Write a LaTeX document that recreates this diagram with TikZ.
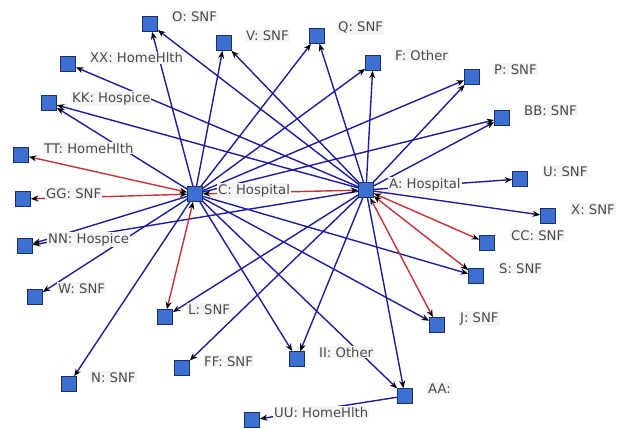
\documentclass[tikz,border=0pt]{standalone}
\usepackage{fontspec}
\setmainfont{DejaVu Sans}
\usepackage{tikz}
\usetikzlibrary{arrows.meta, positioning}
\definecolor{facfill}{HTML}{3B6FD2}
\definecolor{facedge}{HTML}{1C2F6B}
\definecolor{refblue}{HTML}{1E1E9C}
\definecolor{refred}{HTML}{C53434}
\definecolor{lblback}{HTML}{F5F5F5}
\definecolor{lbltext}{HTML}{4A4A4A}

\begin{document}
\begin{tikzpicture}[x=1pt, y=-1pt,
    fac/.style={draw=facedge, fill=facfill, line width=0.7pt, minimum size=15pt, inner sep=0pt},
    lbl/.style={fill=lblback, text=lbltext, inner sep=1pt, anchor=base west, font=\fontsize{13.2}{15}\selectfont},
    refer/.style={draw=refblue, line width=1.4pt, -{Stealth[length=7.5pt, width=6pt, color=black]}},
    mutual/.style={draw=refred, line width=1.4pt, {Stealth[length=7.5pt, width=6pt, color=black]}-{Stealth[length=7.5pt, width=6pt, color=black]}}]
                        \fill[white] (0, 0) rectangle (617, 428);
                        \useasboundingbox (0, 0) rectangle (617, 428);
                        \node[fac] (O) at (150, 24) {};
                        \node[fac] (V) at (224, 43) {};
                        \node[fac] (Q) at (317, 36) {};
                        \node[fac] (F) at (373, 63) {};
                        \node[fac] (P) at (472, 77) {};
                        \node[fac] (BB) at (502, 118) {};
                        \node[fac] (XX) at (68, 64) {};
                        \node[fac] (KK) at (49, 103) {};
                        \node[fac] (TT) at (21, 155) {};
                        \node[fac] (GG) at (23, 199) {};
                        \node[fac] (C) at (195, 194) {};
                        \node[fac] (A) at (366, 190) {};
                        \node[fac] (U) at (520, 179) {};
                        \node[fac] (X) at (548, 216) {};
                        \node[fac] (CC) at (487, 243) {};
                        \node[fac] (NN) at (25, 246) {};
                        \node[fac] (S) at (476, 276) {};
                        \node[fac] (W) at (35, 297) {};
                        \node[fac] (L) at (165, 317) {};
                        \node[fac] (J) at (437, 325) {};
                        \node[fac] (FF) at (182, 368) {};
                        \node[fac] (II) at (297, 359) {};
                        \node[fac] (N) at (69, 384) {};
                        \node[fac] (AA) at (405, 396) {};
                        \node[fac] (UU) at (252, 420) {};
                        \draw
                        (C) edge[refer] (O)
                        (C) edge[refer] (V)
                        (C) edge[refer] (Q)
                        (C) edge[refer] (F)
                        (C) edge[refer] (P)
                        (C) edge[refer] (BB)
                        (C) edge[refer] (KK)
                        (C) edge[refer] (NN)
                        (C) edge[refer] (W)
                        (C) edge[refer] (N)
                        (C) edge[refer] (II)
                        (C) edge[refer] (AA)
                        (C) edge[refer] (J)
                        (C) edge[refer] (S)
                        (A) edge[refer] (O)
                        (A) edge[refer] (V)
                        (A) edge[refer] (XX)
                        (A) edge[refer] (KK)
                        (A) edge[refer] (NN)
                        (A) edge[refer] (L)
                        (A) edge[refer] (FF)
                        (A) edge[refer] (II)
                        (A) edge[refer] (AA)
                        (A) edge[refer] (X)
                        (A) edge[refer] (U)
                        (A) edge[refer] (BB)
                        (A) edge[refer] (P)
                        (A) edge[refer] (F)
                        (A) edge[refer] (Q)
                        (AA) edge[refer] (UU)
                        (C) edge[mutual] (A)
                        (C) edge[mutual] (TT)
                        (C) edge[mutual] (GG)
                        (C) edge[mutual] (L)
                        (A) edge[mutual] (CC)
                        (A) edge[mutual] (S)
                        (A) edge[mutual] (J);
                        \node[lbl] (Ol) at ([xshift=21pt, yshift=2pt]O.center) {O: SNF};
                        \node[lbl] (Vl) at ([xshift=21pt, yshift=2pt]V.center) {V: SNF};
                        \node[lbl] (Ql) at ([xshift=20pt, yshift=4pt]Q.center) {Q: SNF};
                        \node[lbl] (Fl) at ([xshift=21pt, yshift=3pt]F.center) {F: Other};
                        \node[lbl] (Pl) at ([xshift=21pt, yshift=3pt]P.center) {P: SNF};
                        \node[lbl] (BBl) at ([xshift=21pt, yshift=3pt]BB.center) {BB: SNF};
                        \node[lbl] (XXl) at ([xshift=21pt, yshift=1pt]XX.center) {XX: HomeHlth};
                        \node[lbl] (KKl) at ([xshift=22pt, yshift=1pt]KK.center) {KK: Hospice};
                        \node[lbl] (TTl) at ([xshift=22pt, yshift=2pt]TT.center) {TT: HomeHlth};
                        \node[lbl] (GGl) at ([xshift=22pt, yshift=1pt]GG.center) {GG: SNF};
                        \node[lbl] (Cl) at ([xshift=22pt, yshift=0pt]C.center) {C: Hospital};
                        \node[lbl] (Al) at ([xshift=22pt, yshift=2pt]A.center) {A: Hospital};
                        \node[lbl] (Ul) at ([xshift=22pt, yshift=3pt]U.center) {U: SNF};
                        \node[lbl] (Xl) at ([xshift=22pt, yshift=2pt]X.center) {X: SNF};
                        \node[lbl] (CCl) at ([xshift=23pt, yshift=3pt]CC.center) {CC: SNF};
                        \node[lbl] (NNl) at ([xshift=22pt, yshift=3pt]NN.center) {NN: Hospice};
                        \node[lbl] (Sl) at ([xshift=22pt, yshift=3pt]S.center) {S: SNF};
                        \node[lbl] (Wl) at ([xshift=22pt, yshift=4pt]W.center) {W: SNF};
                        \node[lbl] (Ll) at ([xshift=22pt, yshift=3pt]L.center) {L: SNF};
                        \node[lbl] (Jl) at ([xshift=22pt, yshift=3pt]J.center) {J: SNF};
                        \node[lbl] (FFl) at ([xshift=21pt, yshift=2pt]FF.center) {FF: SNF};
                        \node[lbl] (IIl) at ([xshift=21pt, yshift=2pt]II.center) {II: Other};
                        \node[lbl] (Nl) at ([xshift=21pt, yshift=2pt]N.center) {N: SNF};
                        \node[lbl] (AAl) at ([xshift=22pt, yshift=3pt]AA.center) {AA:};
                        \node[lbl] (UUl) at ([xshift=21pt, yshift=3pt]UU.center) {UU: HomeHlth};
                    \end{tikzpicture}
\end{document}
